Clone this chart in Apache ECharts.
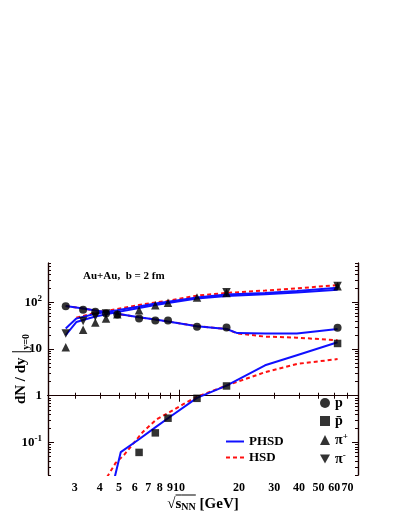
<!DOCTYPE html>
<html><head><meta charset="utf-8">
<script src="https://cdn.jsdelivr.net/npm/echarts@6/dist/echarts.min.js"></script>
<style>html,body{margin:0;padding:0;background:#fff}#c{width:399px;height:516px}</style>
</head><body><div id="c"></div>
<script>
// ---- tick definitions ----
const xTickValues = [3, 4, 5, 6, 7, 8, 9, 10, 20, 30, 40, 50, 60, 70];
const xMajorTicks = [10];
const yDecades = [0.1, 1, 10, 100];
const yDecadeLabels = ['10^-1', '1', '10', '10^2'];
const yMinorTicks = [0.02,0.03,0.04,0.05,0.06,0.07,0.08,0.09,0.2,0.3,0.4,0.5,0.6,0.7,0.8,0.9,2,3,4,5,6,7,8,9,20,30,40,50,60,70,80,90,200,300,400,500,600,700];
const xRange = [2.2, 79];
const yRange = [0.02, 700];

// ---- experimental data ----
const pX = [2.7, 3.3, 3.8, 4.3, 4.9, 6.3, 7.6, 8.8, 12.3, 17.3, 62.4];
const pY = [83, 70, 63, 58, 55, 45, 41, 41, 30, 29, 28.6];
const pbarX = [6.3, 7.6, 8.8, 12.3, 17.3, 62.4];
const pbarY = [0.061, 0.16, 0.33, 0.88, 1.62, 13.2];
const piPlusX = [2.7, 3.3, 3.8, 4.3, 4.9, 6.3, 7.6, 8.8, 12.3, 17.3, 62.4];
const piPlusY = [10.9, 26, 37, 45, 56, 68, 87, 98, 128, 160, 223];
const piMinusX = [2.7, 3.3, 3.8, 4.3, 17.3, 62.4];
const piMinusY = [21.7, 40, 50, 58, 166, 226];

// ---- model curves ----
const phsdPiAX = [2.7, 3.05, 3.8, 4.9, 6.3, 7.6, 8.8, 12.3, 17.3, 27, 39, 62.4];
const phsdPiAY = [27.7, 45, 57, 68, 82, 95, 103, 128, 148, 160, 175, 206];
const phsdPiBX = [2.7, 3.05, 3.8, 4.9, 6.3, 7.6, 8.8, 12.3, 17.3, 27, 39, 62.4];
const phsdPiBY = [20, 38, 50, 62, 76, 88, 97, 122, 138, 150, 163, 187];
const hsdPiX = [3.05, 3.8, 4.9, 6.3, 7.6, 8.8, 12.3, 17.3, 27, 39, 62.4];
const hsdPiY = [47, 60, 72, 88, 100, 108, 140, 160, 180, 200, 235];
const phsdPX = [2.7, 3.3, 3.8, 4.3, 4.9, 6.3, 7.6, 8.8, 12.3, 17.3, 19.6, 27, 39, 62.4];
const phsdPY = [84, 74, 67, 62, 57, 48, 43, 39, 31, 27, 22, 21.5, 21.7, 27];
const hsdPX = [2.7, 3.3, 3.8, 4.3, 4.9, 6.3, 7.6, 8.8, 12.3, 17.3, 19.6, 27, 39, 62.4];
const hsdPY = [84, 74, 67, 62, 57, 48, 43, 39, 31, 27, 21.7, 18.5, 17.6, 15.4];
const phsdPbarX = [4.3, 5.1, 6.3, 7.6, 8.8, 12.3, 17.3, 27, 39, 62.4];
const phsdPbarY = [0.003, 0.062, 0.117, 0.21, 0.33, 0.9, 1.65, 4.5, 7.4, 14];
const hsdPbarX = [4.0, 4.8, 5.3, 5.9, 6.6, 7.7, 9.0, 10.5, 12.3, 17.3, 27, 39, 62.4];
const hsdPbarY = [0.01, 0.036, 0.054, 0.095, 0.17, 0.31, 0.45, 0.66, 0.95, 1.65, 3.2, 4.8, 6.1];

const L = v => Math.log10(v);
const pairs = (xs, ys) => xs.map((x, i) => [L(x), L(ys[i])]);

const SERIF = '"Liberation Serif", "DejaVu Serif", serif';
const AX = '#1a0000';
const BLUE = '#1010ff';
const RED = '#ff1010';
const CLEAR = 'rgba(0,0,0,0)';

const baseAxis = {
  type: 'value', min: null, max: null,
  axisLine: { show: true, lineStyle: { color: AX, width: 1.2 } },
  splitLine: { show: false },
  axisLabel: { show: false },
  axisTick: { show: true, inside: true, length: 3, lineStyle: { color: AX } }
};
function xAx(pos, ticks, len, labels) {
  const a = JSON.parse(JSON.stringify(baseAxis));
  a.position = pos; a.min = L(xRange[0]); a.max = L(xRange[1]);
  a.axisTick.customValues = ticks.map(L); a.axisTick.length = len;
  if (labels) {
    a.axisLabel = { show: true, customValues: xTickValues.map(L), margin: 7,
      fontFamily: SERIF, fontWeight: 'bold', fontSize: 12, color: '#000',
      formatter: v => String(Math.round(Math.pow(10, v))) };
    // second line draws the text, first line (transparent text) carries the radical's overline
    a.name = '{h|\u221a}{ov|s}{ovn|NN}{h| [GeV]}\n{a|\u221a}{a|s}{sub|NN}{a| [GeV]}';
    a.nameLocation = 'middle'; a.nameGap = 19; a.nameMoveOverlap = false;
    const f = { fontFamily: SERIF, fontWeight: 'bold' };
    a.nameTextStyle = { rich: {
      h: Object.assign({ fontSize: 15, color: CLEAR, lineHeight: 2 }, f),
      ov: Object.assign({ fontSize: 15, color: CLEAR, lineHeight: 2, height: 1, backgroundColor: '#000' }, f),
      ovn: Object.assign({ fontSize: 10, color: CLEAR, lineHeight: 2, height: 1, backgroundColor: '#000' }, f),
      a: Object.assign({ fontSize: 15, color: '#000', lineHeight: 16 }, f),
      sub: Object.assign({ fontSize: 10, color: '#000', lineHeight: 16, verticalAlign: 'bottom', padding: [6, 0, 0, 0] }, f)
    } };
  }
  return a;
}
function yAx(pos, ticks, len, labels) {
  const a = JSON.parse(JSON.stringify(baseAxis));
  a.position = pos; a.min = L(yRange[0]); a.max = L(yRange[1]);
  a.axisTick.customValues = ticks.map(L); a.axisTick.length = len;
  if (labels) {
    a.axisLabel = { show: true, customValues: yDecades.map(L), margin: 6,
      fontFamily: SERIF, fontWeight: 'bold', fontSize: 13, color: '#000',
      formatter: v => {
        const i = yDecades.findIndex(d => Math.abs(L(d) - v) < 1e-6);
        const s = yDecadeLabels[i];
        if (s.indexOf('^') >= 0) { const [b, e] = s.split('^'); return '{b|' + b + '}{s|' + e + '}'; }
        return '{b|' + s + '}';
      },
      rich: {
        b: { fontFamily: SERIF, fontWeight: 'bold', fontSize: 13, color: '#000', lineHeight: 16 },
        s: { fontFamily: SERIF, fontWeight: 'bold', fontSize: 9, color: '#000', verticalAlign: 'top', lineHeight: 16, padding: [0, 0, 6, 0] }
      } };
    a.name = '{a|dN / dy }{bar||}{sub|y=0}';
    a.nameLocation = 'middle'; a.nameGap = 17; a.nameRotate = 90; a.nameMoveOverlap = false;
    a.nameTextStyle = { rich: {
      a: { fontFamily: SERIF, fontSize: 15, fontWeight: 'bold', color: '#000' },
      bar: { fontFamily: SERIF, fontSize: 20, color: '#000' },
      sub: { fontFamily: SERIF, fontSize: 10, fontWeight: 'bold', color: '#000', verticalAlign: 'bottom', padding: [10, 0, 0, 0] }
    } };
  }
  return a;
}

function lineS(name, xs, ys, color, dashed) {
  return { type: 'line', name, data: pairs(xs, ys), xAxisIndex: 0, yAxisIndex: 0,
    showSymbol: false, symbol: 'none', clip: true, z: 3, silent: true,
    lineStyle: { color, width: 2, type: dashed ? [4, 3] : 'solid' },
    itemStyle: { color, opacity: 0 } };
}
function scat(name, xs, ys, symbol, size, rot) {
  return { type: 'scatter', name, data: pairs(xs, ys), xAxisIndex: 0, yAxisIndex: 0,
    symbol, symbolSize: size, symbolRotate: rot || 0, z: 4, silent: true,
    itemStyle: { color: '#000' } };
}

const chart = echarts.init(document.getElementById('c'), null, { renderer: 'canvas' });
chart.setOption({
  animation: false,
  backgroundColor: '#fff',
  title: { text: 'Au+Au,  b = 2 fm', left: 78, top: 266,
    textStyle: { fontFamily: SERIF, fontWeight: 'bold', fontSize: 11, color: '#000' } },
  grid: { left: 48, right: 41, top: 263, bottom: 41, containLabel: false, outerBoundsMode: 'none' },
  xAxis: [
    xAx('bottom', xTickValues, 3, true),
    xAx('bottom', xMajorTicks, 6, false),
    xAx('top', xTickValues, 3, false),
    xAx('top', xMajorTicks, 6, false)
  ],
  yAxis: [
    yAx('left', yDecades, 6, true),
    yAx('left', yMinorTicks, 3, false),
    yAx('right', yDecades, 6, false),
    yAx('right', yMinorTicks, 3, false)
  ],
  legend: [
    { data: ['PHSD', 'HSD'], orient: 'vertical', left: 220, top: 430, itemGap: 3,
      itemWidth: 18, itemHeight: 11, selectedMode: false,
      textStyle: { fontFamily: SERIF, fontWeight: 'bold', fontSize: 13, color: '#000' } },
    { data: ['p', 'pbar', 'piplus', 'piminus'], orient: 'vertical', left: 315, top: 391, itemGap: 4,
      itemWidth: 10, itemHeight: 10, selectedMode: false,
      formatter: n => ({ p: '{t|p}', pbar: '{t|p\u0304}', piplus: '{t|\u03c0}{s|+}', piminus: '{t|\u03c0}{s|-}' })[n],
      textStyle: { rich: {
        t: { fontFamily: SERIF, fontWeight: 'bold', fontSize: 14, color: '#000', lineHeight: 16 },
        s: { fontFamily: SERIF, fontWeight: 'bold', fontSize: 9, color: '#000', verticalAlign: 'top', lineHeight: 16 }
      } } }
  ],
  series: [
    lineS('HSD', hsdPiX, hsdPiY, RED, true),
    lineS('HSD', hsdPX, hsdPY, RED, true),
    lineS('HSD', hsdPbarX, hsdPbarY, RED, true),
    lineS('PHSD', phsdPiAX, phsdPiAY, BLUE, false),
    lineS('PHSD', phsdPiBX, phsdPiBY, BLUE, false),
    lineS('PHSD', phsdPX, phsdPY, BLUE, false),
    lineS('PHSD', phsdPbarX, phsdPbarY, BLUE, false),
    scat('p', pX, pY, 'circle', 8),
    scat('pbar', pbarX, pbarY, 'rect', 7.5),
    scat('piplus', piPlusX, piPlusY, 'triangle', 8.5),
    scat('piminus', piMinusX, piMinusY, 'path://M0,0 L10,0 L5,9 Z', 8.5)
  ]
});
</script></body></html>
